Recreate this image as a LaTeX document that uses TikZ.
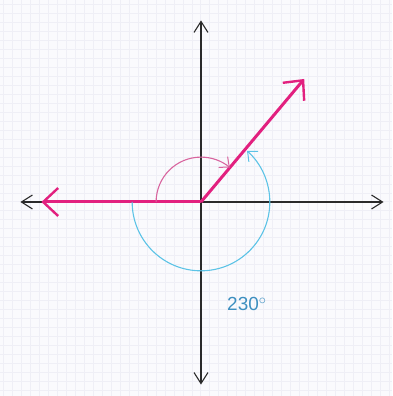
\documentclass[tikz,border=0pt]{standalone}
\usepackage{fontspec}
\setsansfont{Liberation Sans}
\usepackage{tikz}
\usetikzlibrary{positioning,arrows.meta,calc}
\definecolor{GridLav}{HTML}{EFEFF6}
\definecolor{PaperLav}{HTML}{FAFAFD}
\definecolor{VecPink}{HTML}{E2207F}
\definecolor{ArcPink}{HTML}{D8649E}
\definecolor{ArcCyan}{HTML}{5CC3E6}
\definecolor{LblBlue}{HTML}{3D8FC0}
\definecolor{AxisGray}{HTML}{2A2A2A}

\begin{document}
\begin{tikzpicture}[x=1pt, y=1pt,
  axis/.style={draw=AxisGray, line width=1.3pt, -{Straight Barb[length=11pt,width=14pt,line width=1.1pt]}},
  vec/.style={draw=VecPink, line width=3pt, -{Straight Barb[length=15pt,width=28pt,line width=2.4pt]}},
  magarc/.style={draw=ArcPink, line width=1.1pt, -{Straight Barb[length=8pt,width=14pt,line width=1pt]}},
  cyanarc/.style={draw=ArcCyan, line width=1.1pt, -{Straight Barb[length=8pt,width=14pt,line width=1pt]}},
  lbl/.style={font=\sffamily\fontsize{19}{22}\selectfont, text=LblBlue}]

  % ===== paper and faint grid =====
  \fill[PaperLav] (-201,-194) rectangle (191,202);
  \draw[GridLav, line width=1pt, step=9] (-201,-194) grid (191,202);
  \useasboundingbox (-201,-194) rectangle (191,202);

  % ===== points =====
  \coordinate (O)   at (0,0);
  \coordinate (xl)  at (-181,0);
  \coordinate (xr)  at (183,0);
  \coordinate (yt)  at (0,182);
  \coordinate (yb)  at (0,-183);
  \coordinate (neg) at (-160,0);
  \coordinate (tip) at (50:161);

  % ===== axes =====
  \draw[axis] (O) -- (xl);
  \draw[axis] (O) -- (xr);
  \draw[axis] (O) -- (yt);
  \draw[axis] (O) -- (yb);

  % ===== vectors =====
  \draw[vec] (O) -- (neg);
  \draw[vec] (O) -- (tip);

  % ===== angle arcs =====
  \draw[magarc]  ($(O)+(180:45)$) arc[start angle=180, end angle=50, radius=45];
  \draw[cyanarc] ($(O)+(180:69)$) arc[start angle=180, end angle=408, radius=69];

  \node[lbl] (ang) at (46,-102) {230$^{\circ}$};

\end{tikzpicture}
\end{document}
